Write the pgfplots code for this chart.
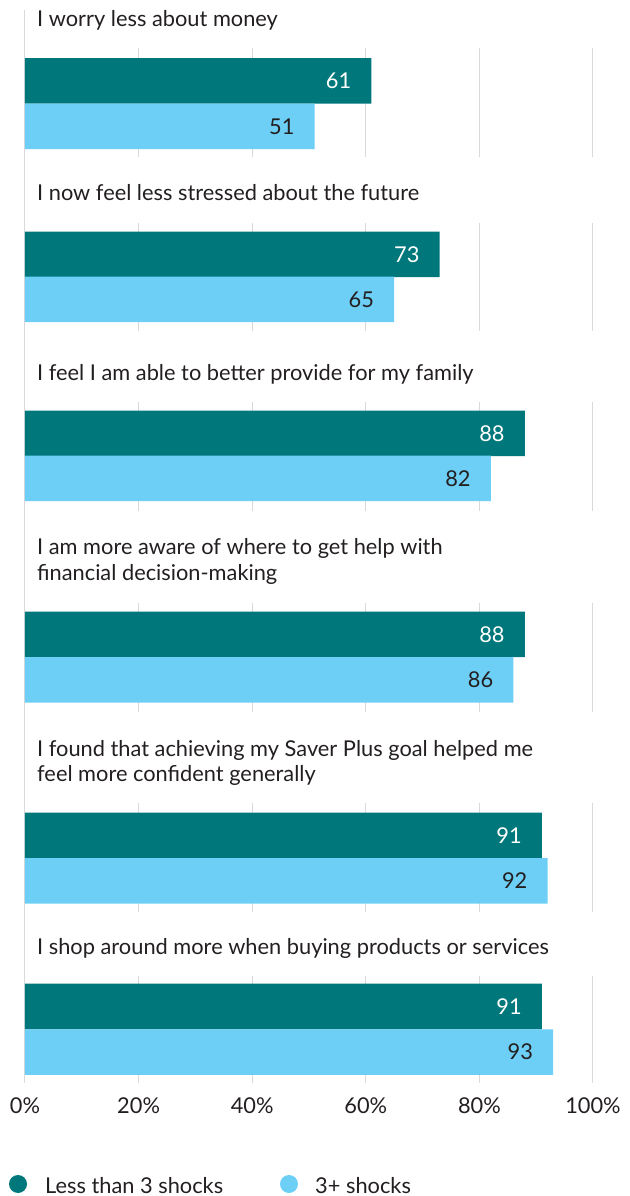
\documentclass[border=0pt]{standalone}
\usepackage{pgfplots}
\pgfplotsset{compat=1.18}
\usepackage{fontspec}
\setmainfont{Lato}
\definecolor{darkteal}{HTML}{00777A}
\definecolor{skyb}{HTML}{6DCFF6}
\definecolor{gridg}{HTML}{D9D9D9}
\definecolor{txt}{HTML}{231F20}
\newcommand\chartfont{\fontsize{21.8}{26}\selectfont}
\tikzset{lab/.style={anchor=base west, xshift=12pt, inner sep=0pt, font=\chartfont, text=txt}}
\begin{document}
\begin{tikzpicture}
\begin{axis}[
  x=5.68pt, y=1pt,
  xmin=0, xmax=100, ymin=-1085, ymax=0,
  clip=false,
  axis line style={draw=none},
  major tick style={draw=none},
  ytick=\empty,
  xtick={0,20,...,100},
  /pgf/number format/assume math mode=true,
  xticklabel={\pgfmathprintnumber{\tick}\%},
  xticklabel style={font=\chartfont, text=txt, inner sep=0pt, yshift=-13pt},
  xbar, bar width=45.5, bar shift=0pt,
  nodes near coords,
  every node near coord/.append style={anchor=east, xshift=-20pt, inner sep=0pt, font=\chartfont},
]
% gridline pieces, broken behind the category labels
\foreach \a/\b in {48/157, 223/331, 402/511, 603/712, 803/912, 976/1083} {
  \foreach \g in {20,40,60,80,100} {
    \edef\tmp{\noexpand\draw[gridg, line width=1pt] (axis cs:\g,-\a) -- (axis cs:\g,-\b);}\tmp
  }
}
\draw[gridg, line width=1pt] (axis cs:0,-10) -- (axis cs:0,-1083);

% less than 3 shocks
\addplot[draw=none, fill=darkteal, every node near coord/.append style={text=white}]
  coordinates {(61,-81) (73,-254.5) (88,-433.5) (88,-634.5) (91,-835.5) (91,-1006.5)};
% 3+ shocks
\addplot[draw=none, fill=skyb, every node near coord/.append style={text=txt}]
  coordinates {(51,-126.5) (65,-299.5) (82,-478.5) (86,-680) (92,-881) (93,-1052)};

\node[lab] at (axis cs:0,-27) {I worry less about money};
\node[lab] at (axis cs:0,-200.7) {I now feel less stressed about the future};
\node[lab] at (axis cs:0,-380.7) {I feel I am able to better provide for my family};
\node[lab] at (axis cs:0,-555) {I am more aware of where to get help with};
\node[lab] at (axis cs:0,-580.7) {financial decision-making};
\node[lab] at (axis cs:0,-757) {I found that achieving my Saver Plus goal helped me};
\node[lab] at (axis cs:0,-782) {feel more confident generally};
\node[lab] at (axis cs:0,-955) {I shop around more when buying products or services};

% legend
\fill[darkteal] (axis cs:-1.23,-1184) circle (9pt);
\node[anchor=base west, inner sep=0pt, font=\chartfont, text=txt] at (axis cs:3.52,-1193) {Less than 3 shocks};
\fill[skyb] (axis cs:46.48,-1184) circle (9pt);
\node[anchor=base west, inner sep=0pt, font=\chartfont, text=txt] at (axis cs:51.06,-1193) {3+ shocks};

\coordinate (bbA) at (axis cs:-4.40,0);
\coordinate (bbB) at (axis cs:106.51,-1196);
\end{axis}
\pgfresetboundingbox
\path[use as bounding box] (bbA) rectangle (bbB);
\end{tikzpicture}
\end{document}
